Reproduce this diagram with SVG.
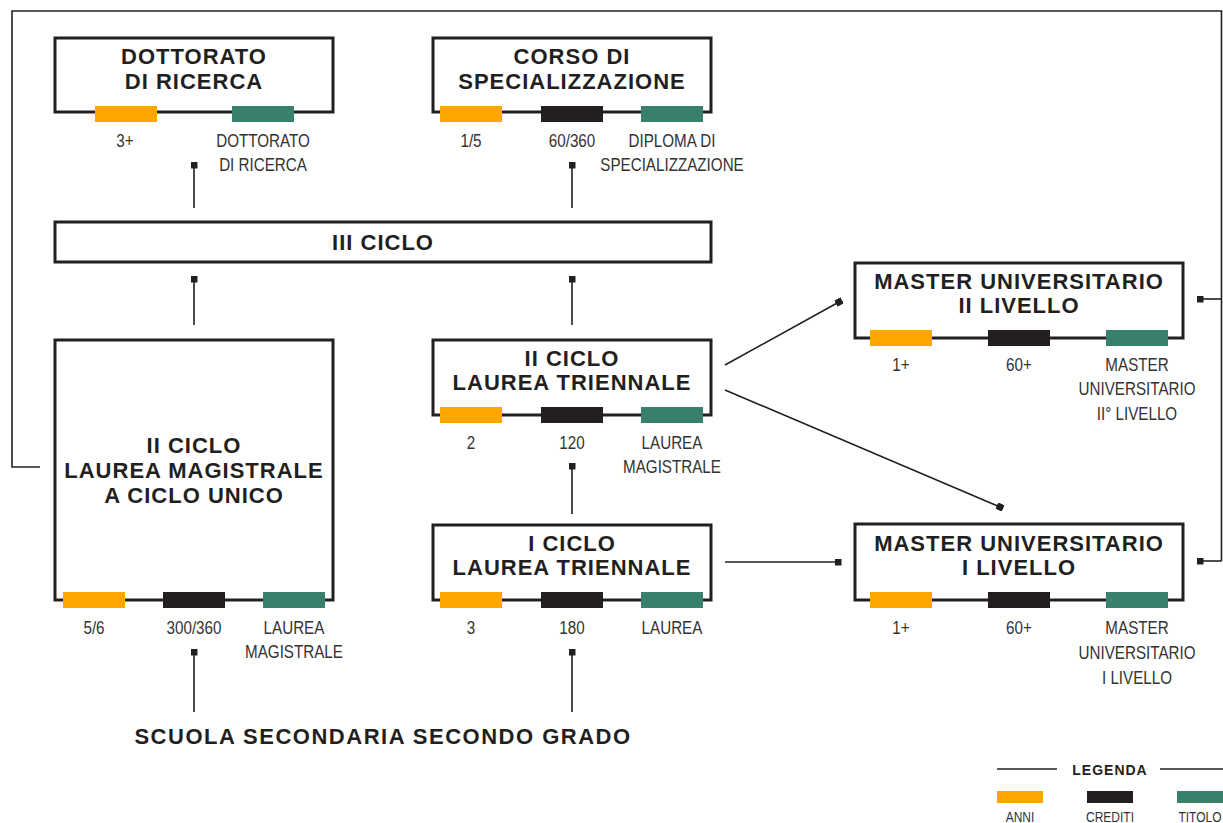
<svg xmlns="http://www.w3.org/2000/svg" width="1223" height="823" viewBox="0 0 1223 823">
<style>
.box{fill:#fff;stroke:#231f20;stroke-width:3}
.t{font-family:"Liberation Sans",Arial,sans-serif;font-weight:bold;font-size:22px;letter-spacing:1px;fill:#231f20;text-anchor:middle}
.l{font-family:"Liberation Sans",Arial,sans-serif;font-size:19px;fill:#333;text-anchor:middle}
.o{fill:#fea500}.k{fill:#231f20}.g{fill:#3a7f6c}
.c{fill:none;stroke:#231f20;stroke-width:1.6}
.lg{font-family:"Liberation Sans",Arial,sans-serif;font-weight:bold;font-size:14px;fill:#231f20;text-anchor:middle;letter-spacing:1px}
.ll{font-family:"Liberation Sans",Arial,sans-serif;font-size:15px;fill:#333;text-anchor:middle}
</style>
<defs>
<marker id="sq" viewBox="0 0 6 6" refX="3" refY="3" markerWidth="7" markerHeight="7" markerUnits="userSpaceOnUse" orient="auto"><rect width="6" height="6" fill="#231f20"/></marker>
</defs>
<rect width="1223" height="823" fill="#fff"/>

<g id="connectors">
<path class="c" d="M40,467 H12 V11 H1221.5 V561"/>
<path class="c" d="M1221.5,299 H1200" marker-end="url(#sq)"/>
<path class="c" d="M1221.5,561 H1200" marker-end="url(#sq)"/>
<path class="c" d="M194,208 V165" marker-end="url(#sq)"/>
<path class="c" d="M572,208 V165" marker-end="url(#sq)"/>
<path class="c" d="M194,325 V279" marker-end="url(#sq)"/>
<path class="c" d="M572,325 V279" marker-end="url(#sq)"/>
<path class="c" d="M572,514 V466" marker-end="url(#sq)"/>
<path class="c" d="M194,712 V652" marker-end="url(#sq)"/>
<path class="c" d="M572,712 V652" marker-end="url(#sq)"/>
<path class="c" d="M725,365 L839,302" marker-end="url(#sq)"/>
<path class="c" d="M725,390 L1000,507" marker-end="url(#sq)"/>
<path class="c" d="M725,562 H838" marker-end="url(#sq)"/>
</g>

<g id="dottorato">
<rect class="box" x="55" y="38" width="278" height="74"/>
<text class="t" x="194" y="64">DOTTORATO</text>
<text class="t" x="194" y="89">DI RICERCA</text>
<rect class="o" x="95" y="106" width="62" height="16"/>
<rect class="g" x="232" y="106" width="62" height="16"/>
<text class="l" transform="translate(125,147) scale(0.8,1)">3+</text>
<text class="l" transform="translate(263,147) scale(0.8,1)">DOTTORATO</text>
<text class="l" transform="translate(263,171) scale(0.8,1)">DI RICERCA</text>
</g>

<g id="specializzazione">
<rect class="box" x="433" y="38" width="278" height="74"/>
<text class="t" x="572" y="64">CORSO DI</text>
<text class="t" x="572" y="89">SPECIALIZZAZIONE</text>
<rect class="o" x="440" y="106" width="62" height="16"/>
<rect class="k" x="541" y="106" width="62" height="16"/>
<rect class="g" x="641" y="106" width="62" height="16"/>
<text class="l" transform="translate(471,147) scale(0.8,1)">1/5</text>
<text class="l" transform="translate(572,147) scale(0.8,1)">60/360</text>
<text class="l" transform="translate(672,147) scale(0.8,1)">DIPLOMA DI</text>
<text class="l" transform="translate(672,171) scale(0.8,1)">SPECIALIZZAZIONE</text>
</g>

<g id="iii-ciclo">
<rect class="box" x="55" y="222" width="656" height="40"/>
<text class="t" x="383" y="250">III CICLO</text>
</g>

<g id="lmcu">
<rect class="box" x="55" y="340" width="278" height="260"/>
<text class="t" x="194" y="453">II CICLO</text>
<text class="t" x="194" y="478">LAUREA MAGISTRALE</text>
<text class="t" x="194" y="503">A CICLO UNICO</text>
<rect class="o" x="63" y="592" width="62" height="16"/>
<rect class="k" x="163" y="592" width="62" height="16"/>
<rect class="g" x="263" y="592" width="62" height="16"/>
<text class="l" transform="translate(94,634) scale(0.8,1)">5/6</text>
<text class="l" transform="translate(194,634) scale(0.8,1)">300/360</text>
<text class="l" transform="translate(294,634) scale(0.8,1)">LAUREA</text>
<text class="l" transform="translate(294,658) scale(0.8,1)">MAGISTRALE</text>
</g>

<g id="ii-ciclo">
<rect class="box" x="433" y="340" width="278" height="75"/>
<text class="t" x="572" y="366">II CICLO</text>
<text class="t" x="572" y="390">LAUREA TRIENNALE</text>
<rect class="o" x="440" y="407" width="62" height="16"/>
<rect class="k" x="541" y="407" width="62" height="16"/>
<rect class="g" x="641" y="407" width="62" height="16"/>
<text class="l" transform="translate(471,449) scale(0.8,1)">2</text>
<text class="l" transform="translate(572,449) scale(0.8,1)">120</text>
<text class="l" transform="translate(672,449) scale(0.8,1)">LAUREA</text>
<text class="l" transform="translate(672,473) scale(0.8,1)">MAGISTRALE</text>
</g>

<g id="i-ciclo">
<rect class="box" x="433" y="525" width="278" height="75"/>
<text class="t" x="572" y="551">I CICLO</text>
<text class="t" x="572" y="575">LAUREA TRIENNALE</text>
<rect class="o" x="440" y="592" width="62" height="16"/>
<rect class="k" x="541" y="592" width="62" height="16"/>
<rect class="g" x="641" y="592" width="62" height="16"/>
<text class="l" transform="translate(471,634) scale(0.8,1)">3</text>
<text class="l" transform="translate(572,634) scale(0.8,1)">180</text>
<text class="l" transform="translate(672,634) scale(0.8,1)">LAUREA</text>
</g>

<g id="master-ii">
<rect class="box" x="855" y="263" width="328" height="75"/>
<text class="t" x="1019" y="289">MASTER UNIVERSITARIO</text>
<text class="t" x="1019" y="313">II LIVELLO</text>
<rect class="o" x="870" y="330" width="62" height="16"/>
<rect class="k" x="988" y="330" width="62" height="16"/>
<rect class="g" x="1106" y="330" width="62" height="16"/>
<text class="l" transform="translate(901,371) scale(0.8,1)">1+</text>
<text class="l" transform="translate(1019,371) scale(0.8,1)">60+</text>
<text class="l" transform="translate(1137,371) scale(0.8,1)">MASTER</text>
<text class="l" transform="translate(1137,395) scale(0.8,1)">UNIVERSITARIO</text>
<text class="l" transform="translate(1137,420) scale(0.8,1)">II° LIVELLO</text>
</g>

<g id="master-i">
<rect class="box" x="855" y="524" width="328" height="76"/>
<text class="t" x="1019" y="551">MASTER UNIVERSITARIO</text>
<text class="t" x="1019" y="575">I LIVELLO</text>
<rect class="o" x="870" y="592" width="62" height="16"/>
<rect class="k" x="988" y="592" width="62" height="16"/>
<rect class="g" x="1106" y="592" width="62" height="16"/>
<text class="l" transform="translate(901,634) scale(0.8,1)">1+</text>
<text class="l" transform="translate(1019,634) scale(0.8,1)">60+</text>
<text class="l" transform="translate(1137,634) scale(0.8,1)">MASTER</text>
<text class="l" transform="translate(1137,659) scale(0.8,1)">UNIVERSITARIO</text>
<text class="l" transform="translate(1137,684) scale(0.8,1)">I LIVELLO</text>
</g>

<g id="scuola">
<text class="t" x="383" y="744" style="letter-spacing:1.5px">SCUOLA SECONDARIA SECONDO GRADO</text>
</g>

<g id="legenda">
<line class="c" x1="997" y1="769" x2="1057" y2="769"/>
<line class="c" x1="1160" y1="769" x2="1223" y2="769"/>
<text class="lg" x="1110" y="775">LEGENDA</text>
<rect class="o" x="997" y="791" width="46" height="12"/>
<rect class="k" x="1087" y="791" width="46" height="12"/>
<rect class="g" x="1177" y="791" width="46" height="12"/>
<text class="ll" transform="translate(1020,822) scale(0.8,1)">ANNI</text>
<text class="ll" transform="translate(1110,822) scale(0.8,1)">CREDITI</text>
<text class="ll" transform="translate(1200,822) scale(0.8,1)">TITOLO</text>
</g>
</svg>
